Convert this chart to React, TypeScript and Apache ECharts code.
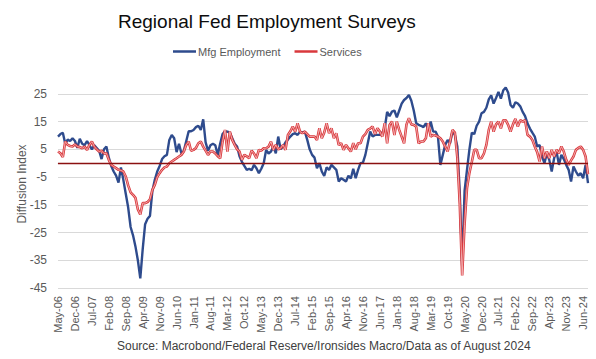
import React, { useEffect, useRef } from "react";
import * as echarts from "echarts";

const START_YEAR = 2006;
const START_MONTH = 4; // May (0-based)
const MONTH_NAMES = ["Jan", "Feb", "Mar", "Apr", "May", "Jun", "Jul", "Aug", "Sep", "Oct", "Nov", "Dec"];

const mfgEmployment = [
  9.6, 10.5, 11, 7, 8.5, 8, 9, 8, 5.5, 8.8, 7, 6.5, 8, 6.5, 5, 6.5, 5.5, 4.5, 1.5, 5,
  6, 2, -1, -3, -4.5, -7, -1.5, -6, -11, -16, -23, -26, -30, -35, -41.5, -31, -22, -20, -19, -10,
  -6, -3, -1, 1.5, 2.5, 3, 8.4, 10.2, 9, 4, 7, 3.5, 4.5, 8, 11.5, 11.5, 12, 13, 13.5, 12,
  15.8, 7.5, 4.5, 6.5, 7, 6.5, 3, 7, 10.5, 11.5, 11.4, 11, 9, 7, 6, 2.5, 0.5, -1, -2.4, -2,
  -2.5, -0.6, -1.8, -3.6, -2, 0, 4.8, 3.5, 4.2, 6, 3.6, 9.6, 5, 6, 7.5, 8.5, 9.6, 10.5, 10.8, 10.2,
  11.4, 11, 11.4, 8.4, 5, 3, 2, -1.8, 0, -3, -4.6, -1.5, -2.4, -0.6, -1.5, -2.4, -6.6, -5.4, -6, -6.6,
  -4.5, -5.5, -2, -5.4, -2.4, 0, 0.2, 3, 7.2, 11.4, 9.6, 10.2, 10.2, 10.2, 11, 12.6, 18.5, 17, 18.6, 19,
  16.5, 19, 21.5, 22.8, 23.5, 24.6, 22.5, 19, 14.5, 13.8, 13.5, 13, 14.4, 12, 15, 11.4, 11.4, 9.6, -0.6, 3,
  6.6, 8.4, 7.2, 11.4, 10.2, 6, -10, -37, -10, -2.4, 5, 11, 10.5, 13.5, 15, 18, 18.5, 20, 23, 24.5,
  21.5, 23.5, 25.7, 23.3, 26.3, 27.3, 25.5, 21, 20, 22, 21.5, 20.5, 18.5, 17, 14.4, 12.5, 11, 9.6, 6, 6.6,
  2.4, 0, 3.6, 1.2, -3, 1.8, 4.2, -0.6, 3, 1.5, -0.6, -2.4, -6.6, -1.2, -3, -4.5, -3.6, -5.4, -0.6, -7.2,
];

const services = [
  4.2, 3.6, 2.2, 7.8, 6.6, 6.2, 6, 6.8, 6, 5.8, 5.4, 6, 4.8, 6.6, 7.8, 6, 5, 4.2, 4.5, 3.5,
  3.6, 1.2, -0.6, -1.2, -1.8, -2.4, -2.6, -3, -4.8, -8, -10.5, -11.4, -12.5, -16.7, -18.5, -14.4, -14.4, -14, -13, -9.6,
  -7.8, -5, -3.6, -2.4, -1.5, -1.2, 0, 0.6, 1.2, 1.8, 2.4, 3, 4.2, 6.6, 7.8, 4.5, 4.8, 5.5, 7.2, 7.8,
  6, 4.5, 3, 4.2, 4.2, 3.5, 2.5, 1.8, 7.8, 12, 4.2, 11.4, 8.4, 6.6, 5, 4.2, 1.2, 3, 2.5, 1.8,
  4.5, 3.5, 1.8, 4.8, 4.5, 5.4, 5.4, 6, 7.8, 4.8, 6.6, 5, 5.4, 6.6, 4.8, 10.2, 11.5, 13.2, 11.4, 14.4,
  11.4, 10.8, 11.4, 10.5, 9.6, 9.6, 9.6, 8.4, 12.6, 9, 11, 14.4, 10.8, 12.6, 9, 10.8, 6.6, 7.2, 4.8, 6.6,
  5.4, 4.2, 7.2, 5, 7.2, 7.2, 9.6, 10.5, 12, 12.5, 13.2, 10.5, 12.6, 11.4, 9.6, 14.4, 7.2, 13.8, 15, 10.2,
  15, 12, 9.6, 7.2, 14, 16.2, 14, 13.8, 13.2, 7.2, 7.8, 7.8, 9, 14.4, 9.6, 10.2, 10, 9.6, 9, 7.8,
  6, 4.2, 7.8, 12, 11, 2, -14.4, -40.5, -22, -9, -3.5, 0.5, 4.8, 4.8, 1.8, 1.8, 3.5, 6.6, 12, 15,
  11.4, 14, 15, 12.6, 15.5, 15.5, 13.8, 11.4, 14, 16, 13.2, 15.5, 15, 15.5, 10.2, 9.6, 8.4, 6, 4, 0.6,
  6, 1.8, 4.2, 1.8, 4.8, 2.4, 4.8, 3.6, 6, 4.2, 1.2, -0.6, 1, 2.4, 4.8, 5.5, 6, 4.8, 2.4, -4,
];

const categories: string[] = [];
for (let k = 0; k < mfgEmployment.length; k++) {
  const m = START_MONTH + k;
  const y = START_YEAR + Math.floor(m / 12);
  categories.push(`${MONTH_NAMES[m % 12]}-${String(y % 100).padStart(2, "0")}`);
}

const FONT = "'Liberation Sans', Arial, sans-serif";

export default function App() {
  const ref = useRef<HTMLDivElement>(null);
  useEffect(() => {
    document.body.style.margin = "0";
    if (!ref.current) return;
    const chart = echarts.init(ref.current, null, { renderer: "svg" });
    chart.setOption({
      animation: false,
      backgroundColor: "#ffffff",
      textStyle: { fontFamily: FONT },
      title: {
        text: "Regional Fed Employment Surveys",
        left: 113,
        top: 7,
        textStyle: { fontFamily: FONT, fontSize: 19, fontWeight: "normal", color: "#0d0d0d" },
      },
      legend: {
        data: ["Mfg Employment", "Services"],
        left: 173,
        top: 46,
        padding: 0,
        icon: "rect",
        itemWidth: 23,
        itemHeight: 2.5,
        itemGap: 14,
        textStyle: { fontFamily: FONT, fontSize: 11, color: "#595959", padding: [0, 0, 0, -3] },
      },
      graphic: [
        {
          type: "text",
          left: 117,
          top: 340,
          style: {
            text: "Source: Macrobond/Federal Reserve/Ironsides Macro/Data as of August 2024",
            font: `12px ${FONT}`,
            fill: "#404040",
          },
        },
      ],
      grid: { left: 58, right: 8, top: 80, bottom: 71, containLabel: false },
      xAxis: {
        type: "category",
        data: categories,
        boundaryGap: false,
        axisLine: { show: true, lineStyle: { color: "#d9d9d9", width: 1 } },
        axisTick: { show: false },
        axisLabel: {
          interval: 6,
          rotate: 90,
          margin: 8,
          fontFamily: FONT,
          fontSize: 11,
          color: "#595959",
        },
        splitLine: { show: false },
      },
      yAxis: {
        type: "value",
        min: -45,
        max: 30,
        interval: 10,
        name: "Diffusion Index",
        nameLocation: "middle",
        nameGap: 30,
        nameMoveOverlap: false,
        nameTextStyle: { fontFamily: FONT, fontSize: 12, color: "#595959" },
        axisLine: { show: false },
        axisTick: { show: false },
        axisLabel: {
          showMaxLabel: false,
          margin: 11,
          fontFamily: FONT,
          fontSize: 12,
          color: "#595959",
        },
        splitLine: { show: true, showMaxLine: false, lineStyle: { color: "#d9d9d9", width: 1 } },
      },
      series: [
        {
          name: "Mfg Employment",
          type: "line",
          data: mfgEmployment,
          symbol: "none",
          showSymbol: false,
          lineStyle: { color: "#2e4b8d", width: 2.4 },
          itemStyle: { color: "#2e4b8d" },
          markLine: {
            silent: true,
            symbol: "none",
            label: { show: false },
            lineStyle: { color: "#8b1010", width: 1.4, type: "solid" },
            data: [{ yAxis: 0 }],
          },
        },
        {
          name: "Services",
          type: "line",
          data: services,
          symbol: "none",
          showSymbol: false,
          lineStyle: { color: "#d9383c", width: 2.6 },
          itemStyle: { color: "#d9383c" },
        },
        {
          name: "ServicesInner",
          type: "line",
          data: services,
          symbol: "none",
          showSymbol: false,
          silent: true,
          lineStyle: { color: "#f6c4c5", width: 0.8 },
          itemStyle: { color: "#f6c4c5" },
        },
      ],
    });
    return () => chart.dispose();
  }, []);
  return <div ref={ref} style={{ width: 596, height: 359 }} />;
}
